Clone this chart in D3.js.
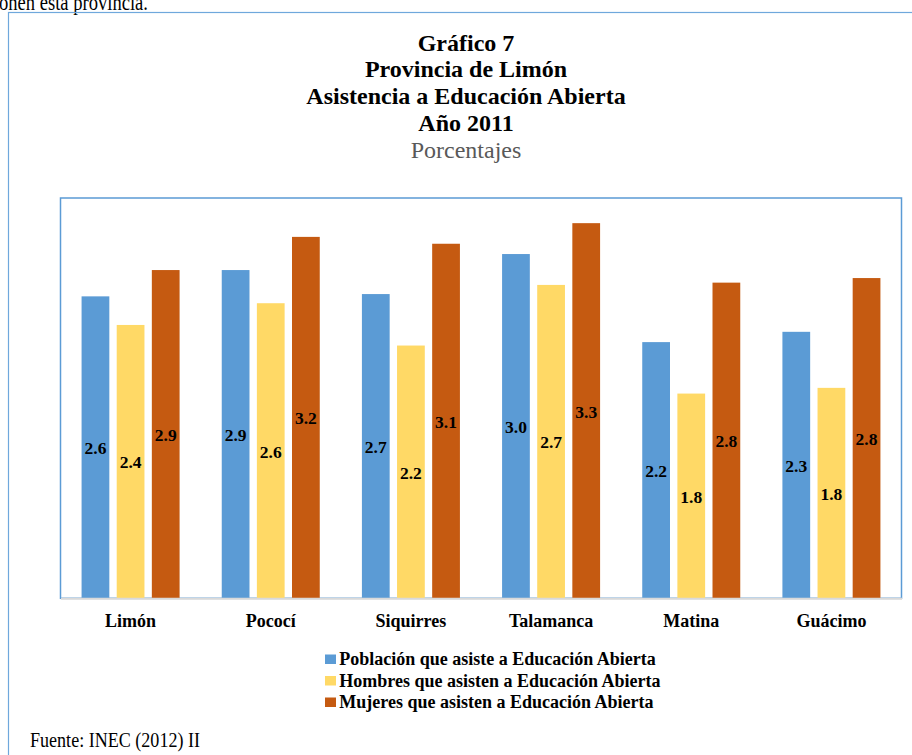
<!DOCTYPE html>
<html>
<head>
<meta charset="utf-8">
<script src="https://cdn.jsdelivr.net/npm/d3@7"></script>
<style>
  html, body { margin: 0; padding: 0; background: #fff; }
  svg { display: block; }
  text { font-family: "Liberation Serif", "Times New Roman", serif; }
</style>
</head>
<body>
<svg id="chart" width="912" height="755"></svg>
<script>
// ---- Data ----
const categories = ["Limón", "Pococí", "Siquirres", "Talamanca", "Matina", "Guácimo"];
const seriesNames = [
  "Población que asiste a Educación Abierta",
  "Hombres que asisten a Educación Abierta",
  "Mujeres que asisten a Educación Abierta"
];
const poblacion = [2.64, 2.87, 2.66, 3.01, 2.24, 2.33];
const hombres   = [2.39, 2.58, 2.21, 2.74, 1.79, 1.84];
const mujeres   = [2.87, 3.16, 3.10, 3.28, 2.76, 2.80];
const titleLines = ["Gráfico 7", "Provincia de Limón", "Asistencia a Educación Abierta", "Año 2011"];
const subtitle = "Porcentajes";
const source = "Fuente: INEC (2012) II";
const topText = "onen esta provincia.";
const colors = ["#5b9bd5", "#ffd966", "#c55a11"];

const seriesValues = [poblacion, hombres, mujeres];

const svg = d3.select("#chart");

// text cut at top (from surrounding document)
svg.append("text")
  .attr("x", -1).attr("y", 9.5)
  .attr("font-size", 24)
  .attr("textLength", 149).attr("lengthAdjust", "spacingAndGlyphs")
  .attr("fill", "#000")
  .text(topText);

// outer frame
svg.append("rect")
  .attr("x", 8.5).attr("y", 12.5)
  .attr("width", 1000).attr("height", 1000)
  .attr("fill", "none").attr("stroke", "#6fa8dc").attr("stroke-width", 1.2);

// titles
const titleX = 466;
const titleBaselines = [50.5, 77, 104, 131];
titleLines.forEach((t, i) => {
  svg.append("text")
    .attr("x", titleX).attr("y", titleBaselines[i])
    .attr("text-anchor", "middle")
    .attr("font-size", 24).attr("font-weight", "bold")
    .attr("fill", "#000")
    .text(t);
});
svg.append("text")
  .attr("x", titleX).attr("y", 158)
  .attr("text-anchor", "middle")
  .attr("font-size", 24)
  .attr("fill", "#595959")
  .text(subtitle);

// plot area
const plot = { left: 60.5, right: 901.5, top: 198, bottom: 598.3 };

svg.append("rect")
  .attr("x", plot.left).attr("y", plot.top)
  .attr("width", plot.right - plot.left).attr("height", plot.bottom - plot.top)
  .attr("fill", "none").attr("stroke", "#5b9bd5").attr("stroke-width", 1.5);

const x0 = d3.scaleBand().domain(categories).range([plot.left, plot.right]).paddingInner(0).paddingOuter(0);
const x1 = d3.scaleBand().domain(d3.range(3)).range([0, x0.bandwidth()]).paddingInner(0.21).paddingOuter(0.6);
const y = d3.scaleLinear().domain([0, 3.5]).range([plot.bottom, plot.top]);

const data = [];
categories.forEach((c, ci) => {
  seriesValues.forEach((vals, si) => data.push({ cat: c, s: si, v: vals[ci] }));
});

svg.append("g").selectAll("rect")
  .data(data).join("rect")
  .attr("x", d => x0(d.cat) + x1(d.s))
  .attr("y", d => y(d.v))
  .attr("width", x1.bandwidth())
  .attr("height", d => y(0) - y(d.v))
  .attr("fill", d => colors[d.s]);

const fmt = d3.format(".1f");
svg.append("g").selectAll("text")
  .data(data).join("text")
  .attr("x", d => x0(d.cat) + x1(d.s) + x1.bandwidth() / 2)
  .attr("y", d => (y(d.v) + y(0)) / 2 + 6.8)
  .attr("text-anchor", "middle")
  .attr("font-size", 17.5).attr("font-weight", "bold")
  .attr("fill", "#000")
  .text(d => fmt(d.v));

// x axis
const xAxis = svg.append("g")
  .attr("transform", `translate(0,${plot.bottom})`)
  .call(d3.axisBottom(x0).tickSize(0).tickPadding(16));
xAxis.select(".domain").attr("stroke", "#d9d9d9").attr("stroke-width", 2);
xAxis.selectAll("text")
  .attr("font-family", "Liberation Serif, Times New Roman, serif")
  .attr("font-size", 18).attr("font-weight", "bold").attr("fill", "#000")
  .attr("dy", "0.71em");

// legend
const legendBaselines = [665, 686.5, 708];
const leg = svg.append("g");
seriesNames.forEach((n, i) => {
  leg.append("rect")
    .attr("x", 325).attr("y", legendBaselines[i] - 10.5)
    .attr("width", 11).attr("height", 9.5)
    .attr("fill", colors[i]);
  leg.append("text")
    .attr("x", 339.3).attr("y", legendBaselines[i])
    .attr("font-size", 18).attr("font-weight", "bold")
    .attr("fill", "#000")
    .text(n);
});

// source
svg.append("text")
  .attr("x", 30).attr("y", 746.5)
  .attr("font-size", 20)
  .attr("textLength", 170).attr("lengthAdjust", "spacingAndGlyphs")
  .attr("fill", "#000")
  .text(source);
</script>
</body>
</html>
